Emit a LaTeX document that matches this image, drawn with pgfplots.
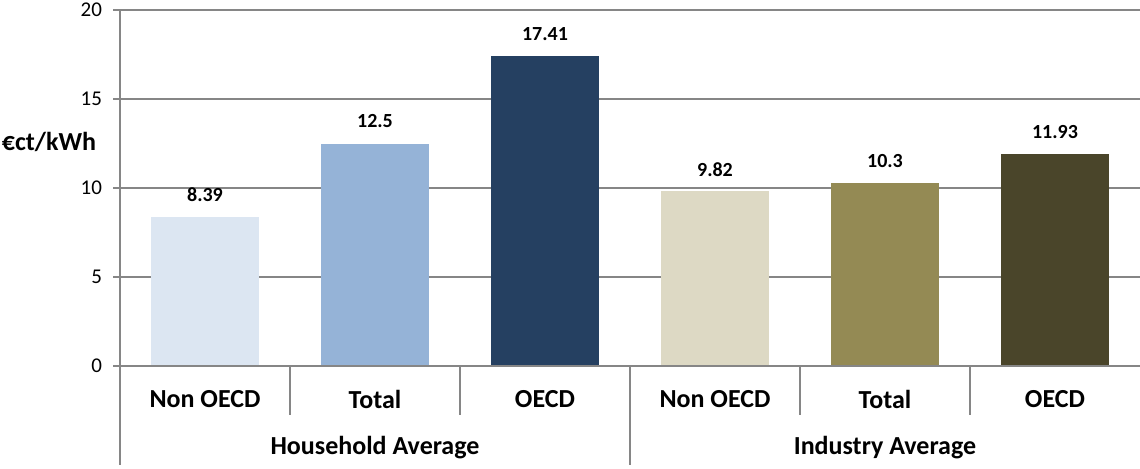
\documentclass[border=0pt]{standalone}
\usepackage{pgfplots}
\pgfplotsset{compat=1.18}
\usepackage{fontspec}
\setmainfont{Carlito}
\definecolor{c1}{HTML}{DCE6F2}
\definecolor{c2}{HTML}{95B3D7}
\definecolor{c3}{HTML}{254061}
\definecolor{c4}{HTML}{DDD9C4}
\definecolor{c5}{HTML}{948A54}
\definecolor{c6}{HTML}{4A452A}
\definecolor{gridc}{HTML}{868686}
\begin{document}
\begin{tikzpicture}
\begin{axis}[
  at={(60pt,51pt)}, anchor=south west,
  scale only axis, width=510pt, height=178pt,
  xmin=-0.5, xmax=5.5, ymin=0, ymax=20,
  axis x line*=bottom, axis y line*=left,
  axis line style={draw=none},
  clip=false,
  ytick={0,5,10,15,20},
  xtick={0,1,2,3,4,5},
  xticklabels={Non OECD,Total,OECD,Non OECD,Total,OECD},
  tick style={draw=none},
  ymajorgrids,
  grid style={gridc, line width=0.6pt},
  /pgf/number format/assume math mode=true,
  yticklabel style={font=\fontsize{10.5}{12}\selectfont, anchor=east, xshift=-5.5pt},
  xticklabel style={font=\bfseries\fontsize{13}{15}\selectfont, anchor=center, yshift=-16.5pt},
  nodes near coords,
  every node near coord/.append style={font=\bfseries\fontsize{10}{12}\selectfont, anchor=center, yshift=11pt, text=black},
]
\addplot[ybar, bar width=54pt, bar shift=0pt, fill=c1, draw=none] coordinates {(0,8.39)};
\addplot[ybar, bar width=54pt, bar shift=0pt, fill=c2, draw=none] coordinates {(1,12.5)};
\addplot[ybar, bar width=54pt, bar shift=0pt, fill=c3, draw=none] coordinates {(2,17.41)};
\addplot[ybar, bar width=54pt, bar shift=0pt, fill=c4, draw=none] coordinates {(3,9.82)};
\addplot[ybar, bar width=54pt, bar shift=0pt, fill=c5, draw=none] coordinates {(4,10.3)};
\addplot[ybar, bar width=54pt, bar shift=0pt, fill=c6, draw=none] coordinates {(5,11.93)};
% axes and separators
\draw[gridc, line width=0.6pt] (axis cs:-0.5,20) -- ([yshift=-49.5pt]axis cs:-0.5,0);
\draw[gridc, line width=0.6pt] (axis cs:-0.5,0) -- (axis cs:5.5,0);
\draw[gridc, line width=0.6pt] (axis cs:-0.5,0) -- ([xshift=-3.5pt]axis cs:-0.5,0);
\draw[gridc, line width=0.6pt] (axis cs:-0.5,5) -- ([xshift=-3.5pt]axis cs:-0.5,5);
\draw[gridc, line width=0.6pt] (axis cs:-0.5,10) -- ([xshift=-3.5pt]axis cs:-0.5,10);
\draw[gridc, line width=0.6pt] (axis cs:-0.5,15) -- ([xshift=-3.5pt]axis cs:-0.5,15);
\draw[gridc, line width=0.6pt] (axis cs:-0.5,20) -- ([xshift=-3.5pt]axis cs:-0.5,20);
\draw[gridc, line width=0.6pt] (axis cs:0.5,0) -- ([yshift=-24.5pt]axis cs:0.5,0);
\draw[gridc, line width=0.6pt] (axis cs:1.5,0) -- ([yshift=-24.5pt]axis cs:1.5,0);
\draw[gridc, line width=0.6pt] (axis cs:3.5,0) -- ([yshift=-24.5pt]axis cs:3.5,0);
\draw[gridc, line width=0.6pt] (axis cs:4.5,0) -- ([yshift=-24.5pt]axis cs:4.5,0);
\draw[gridc, line width=0.6pt] (axis cs:2.5,0) -- ([yshift=-49.5pt]axis cs:2.5,0);
\node[font=\bfseries\fontsize{13}{15}\selectfont, anchor=center] at ([yshift=-41pt]axis cs:1,0) {Household Average};
\node[font=\bfseries\fontsize{13}{15}\selectfont, anchor=center] at ([yshift=-41pt]axis cs:4,0) {Industry Average};
\node[font=\bfseries\fontsize{13}{15}\selectfont, anchor=center] at ([xshift=-35.5pt]axis cs:-0.5,12.58) {€ct/kWh};
\end{axis}
\pgfresetboundingbox
\path (0,0) rectangle (570pt,234pt);
\end{tikzpicture}
\end{document}
